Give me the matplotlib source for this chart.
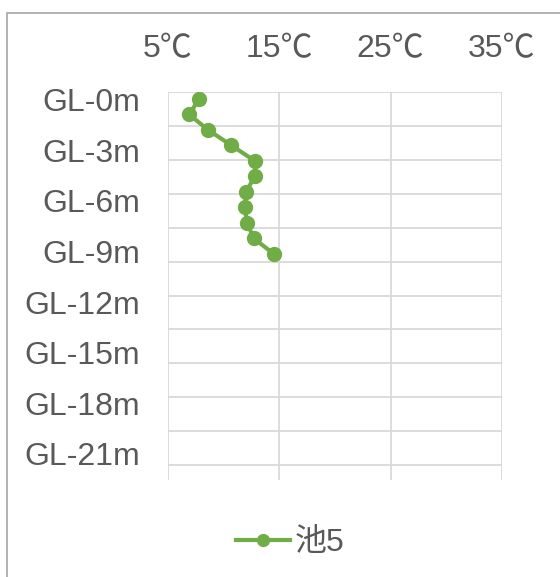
import numpy as np
import matplotlib.pyplot as plt
from matplotlib.patches import Rectangle

plt.rcParams['font.family'] = ['Liberation Sans', 'Noto Sans CJK JP', 'DejaVu Sans']

# data
depth_idx = [0, 1, 2, 3, 4, 5, 6, 7, 8, 9, 10]
temps = [7.8, 6.9, 8.6, 10.7, 12.8, 12.8, 12.0, 11.9, 12.1, 12.7, 14.5]
x_ticks = [5, 15, 25, 35]
x_labels = ["5℃", "15℃", "25℃", "35℃"]
y_labels = ["GL-0m", "GL-3m", "GL-6m", "GL-9m", "GL-12m", "GL-15m", "GL-18m", "GL-21m"]
series_name = "池5"

green = "#70AD47"
grid_c = "#D9D9D9"
text_c = "#595959"

fig = plt.figure(figsize=(5.6, 5.77), dpi=100)

# chart border (runs off the right and bottom edges)
fig.patches.append(Rectangle((7 / 560, -0.05), 1.2, 1 - 13 / 577 + 0.05,
                             transform=fig.transFigure, fill=False,
                             edgecolor="#A6A6A6", linewidth=1.2))

ax = fig.add_axes([168 / 560, 1 - 480 / 577, (502 - 168) / 560, (480 - 92) / 577])

line, = ax.plot(temps, depth_idx, color=green, linewidth=3,
                marker='o', markersize=10, label=series_name, zorder=3)

ax.set_xlim(5, 35)
ax.set_ylim(24.6, -0.45)

ax.xaxis.tick_top()
ax.set_xticks(x_ticks)
ax.set_xticklabels(x_labels)

ax.set_yticks(np.linspace(0.06, 22.9, len(y_labels)))
ax.set_yticklabels(y_labels)

ax.tick_params(length=0, labelsize=23, colors=text_c, pad=20)

# grid lines
for x in x_ticks:
    ax.axvline(x, color=grid_c, linewidth=1.3, zorder=1)
for y in np.arange(-0.45, 24.0, 2.19):
    ax.axhline(y, color=grid_c, linewidth=1.3, zorder=1)

for s in ax.spines.values():
    s.set_visible(False)

leg = fig.legend(handles=[line], loc='center', bbox_to_anchor=(290 / 560, 1 - 543 / 577),
                 frameon=False, fontsize=23, handlelength=1.7, handletextpad=0.15,
                 markerscale=0.85)
for t in leg.get_texts():
    t.set_color(text_c)

plt.savefig("out.png", dpi=100)
plt.close()
